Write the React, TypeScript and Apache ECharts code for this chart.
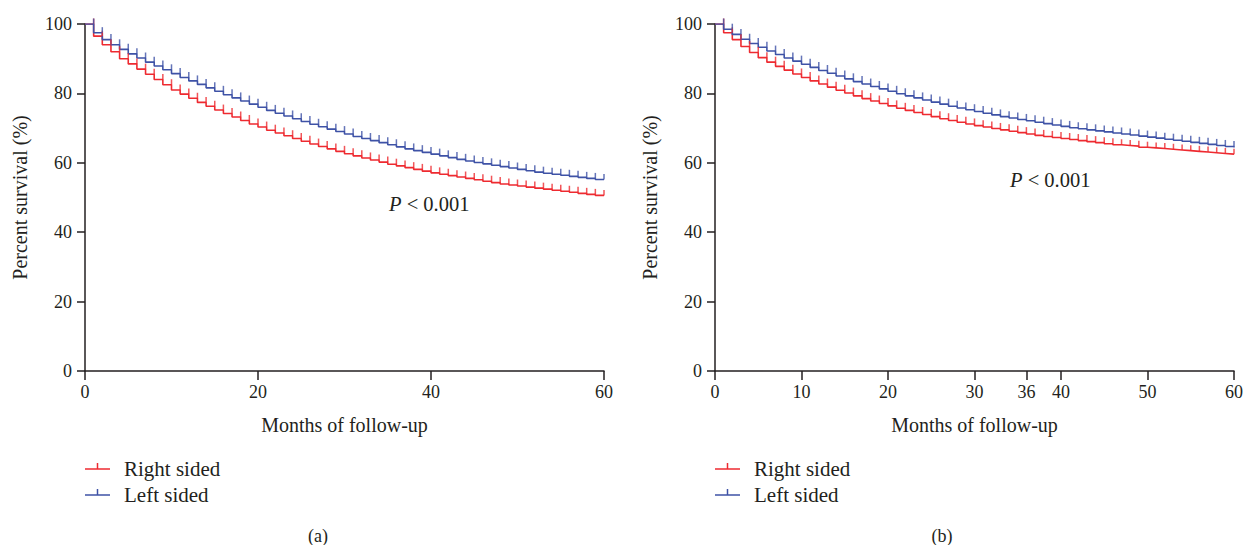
import React, { useEffect, useRef } from "react";
import * as echarts from "echarts";

const months = [
  0, 1, 2, 3, 4, 5, 6, 7, 8, 9, 10, 11, 12, 13, 14, 15, 16, 17, 18, 19, 20,
  21, 22, 23, 24, 25, 26, 27, 28, 29, 30, 31, 32, 33, 34, 35, 36, 37, 38, 39, 40,
  41, 42, 43, 44, 45, 46, 47, 48, 49, 50, 51, 52, 53, 54, 55, 56, 57, 58, 59, 60,
];

const aRight = [
  100, 96.5, 94, 92, 90, 88.5, 87, 85.5, 84, 82.5, 81, 79.8, 78.6, 77.4, 76.3,
  75.2, 74.2, 73.2, 72.2, 71.2, 70.3, 69.4, 68.6, 67.8, 67, 66.2, 65.4, 64.7,
  64, 63.3, 62.6, 62, 61.4, 60.8, 60.2, 59.6, 59.1, 58.6, 58.1, 57.6, 57.1, 56.7,
  56.3, 55.9, 55.5, 55.1, 54.7, 54.3, 53.9, 53.6, 53.3, 53, 52.7, 52.4, 52.1,
  51.8, 51.5, 51.2, 50.9, 50.6, 50.4,
];
const aLeft = [
  100, 97.5, 95.5, 94, 92.7, 91.4, 90.2, 89, 87.9, 86.8, 85.7, 84.6, 83.6, 82.6,
  81.6, 80.6, 79.6, 78.7, 77.8, 76.9, 76, 75.1, 74.3, 73.5, 72.7, 71.9, 71.1,
  70.4, 69.7, 69, 68.3, 67.6, 67, 66.4, 65.8, 65.2, 64.6, 64, 63.5, 63, 62.5, 62,
  61.5, 61, 60.5, 60.1, 59.7, 59.3, 58.9, 58.5, 58.1, 57.7, 57.3, 57, 56.7, 56.4,
  56.1, 55.8, 55.5, 55.2, 55,
];
const bRight = [
  100, 97.5, 95.5, 93.5, 91.8, 90.3, 89, 87.8, 86.7, 85.6, 84.6, 83.6, 82.7,
  81.8, 80.9, 80.1, 79.3, 78.5, 77.8, 77.1, 76.4, 75.7, 75.1, 74.5, 73.9, 73.3,
  72.7, 72.2, 71.7, 71.2, 70.7, 70.3, 69.9, 69.5, 69.1, 68.7, 68.3, 67.9, 67.6,
  67.3, 67, 66.7, 66.4, 66.1, 65.8, 65.5, 65.2, 65, 64.8, 64.5, 64.3, 64.1, 63.9,
  63.7, 63.5, 63.3, 63.1, 62.9, 62.7, 62.5, 62.3,
];
const bLeft = [
  100, 98.5, 97, 95.6, 94.4, 93.3, 92.2, 91.2, 90.2, 89.3, 88.4, 87.5, 86.6,
  85.8, 85, 84.2, 83.4, 82.7, 82, 81.3, 80.6, 79.9, 79.3, 78.7, 78.1, 77.5, 76.9,
  76.3, 75.8, 75.3, 74.8, 74.3, 73.8, 73.3, 72.9, 72.5, 72.1, 71.7, 71.3, 70.9,
  70.5, 70.1, 69.8, 69.5, 69.2, 68.9, 68.6, 68.3, 68, 67.7, 67.4, 67.1, 66.8,
  66.5, 66.2, 65.9, 65.6, 65.3, 65, 64.7, 64.4,
];

const yTicks = [0, 20, 40, 60, 80, 100];
const xTicksA = [0, 20, 40, 60];
const xTicksB = [0, 10, 20, 30, 36, 40, 50, 60];
const seriesNames = ["Right sided", "Left sided"];
const panelLabels = ["(a)", "(b)"];
const pText = "P < 0.001";

const RED = "#ee2a30";
const BLUE = "#3e52a6";
const INK = "#231f20";
const FONT = "Liberation Serif";
const TICK_FS = 18;
const NAME_FS = 20;

function stepSeries(vals: number[], color: string, idx: number, name: string) {
  return [
    {
      type: "line",
      name,
      xAxisIndex: idx,
      yAxisIndex: idx,
      step: "end",
      showSymbol: false,
      symbol: "none",
      lineStyle: { color, width: 1.6 },
      data: months.map((m, i) => [m, vals[i]]),
      z: 3,
    },
    {
      type: "scatter",
      name: name + " censored",
      xAxisIndex: idx,
      yAxisIndex: idx,
      symbol: "rect",
      symbolSize: [1.5, 5.5],
      symbolOffset: [0, -2.75],
      itemStyle: { color },
      silent: true,
      data: months.slice(1).map((m, i) => [m, vals[i]]),
      z: 3,
    },
  ];
}

function makeX(idx: number, ticks: number[]) {
  return {
    type: "value",
    gridIndex: idx,
    min: 0,
    max: 60,
    interval: 10,
    name: "Months of follow-up",
    nameLocation: "middle",
    nameGap: 44,
    nameTextStyle: { fontFamily: FONT, fontSize: NAME_FS, color: INK },
    splitLine: { show: false },
    axisLine: { lineStyle: { color: INK, width: 1.5 } },
    axisTick: {
      customValues: ticks,
      length: 9,
      lineStyle: { color: INK, width: 1.5 },
    },
    axisLabel: {
      customValues: ticks,
      margin: 12,
      fontFamily: FONT,
      fontSize: TICK_FS,
      color: INK,
    },
  };
}

function makeY(idx: number) {
  return {
    type: "value",
    gridIndex: idx,
    min: 0,
    max: 100,
    interval: 20,
    name: "Percent survival (%)",
    nameLocation: "middle",
    nameGap: 55,
    nameTextStyle: { fontFamily: FONT, fontSize: NAME_FS, color: INK },
    splitLine: { show: false },
    axisLine: { lineStyle: { color: INK, width: 1.5 } },
    axisTick: {
      customValues: yTicks,
      length: 8,
      lineStyle: { color: INK, width: 1.5 },
    },
    axisLabel: {
      customValues: yTicks,
      margin: 13,
      fontFamily: FONT,
      fontSize: TICK_FS,
      color: INK,
    },
  };
}

function legendGraphic(left: number, top: number) {
  const items = [
    { name: seriesNames[0], color: RED },
    { name: seriesNames[1], color: BLUE },
  ];
  const els: any[] = [];
  items.forEach((it, i) => {
    const y = top + i * 26;
    els.push({
      type: "line",
      shape: { x1: left, y1: y, x2: left + 25, y2: y },
      style: { stroke: it.color, lineWidth: 1.5 },
    });
    els.push({
      type: "line",
      shape: { x1: left + 12.5, y1: y, x2: left + 12.5, y2: y - 6 },
      style: { stroke: it.color, lineWidth: 1.5 },
    });
    els.push({
      type: "text",
      x: left + 39,
      y,
      style: {
        text: it.name,
        fontFamily: FONT,
        fontSize: 21,
        fill: INK,
        verticalAlign: "middle",
      },
    });
  });
  return els;
}

function pGraphic(x: number, y: number) {
  return {
    type: "text",
    x,
    y,
    style: {
      text: "{i|P} {n|" + pText.slice(2) + "}",
      rich: {
        i: { fontFamily: FONT, fontSize: 20.5, fontStyle: "italic", fill: INK, color: INK },
        n: { fontFamily: FONT, fontSize: 20.5, fill: INK, color: INK },
      },
      fontFamily: FONT,
      fontSize: 20.5,
      verticalAlign: "middle",
    },
  };
}

function panelLabel(x: number, text: string) {
  return {
    type: "text",
    x,
    y: 536,
    style: {
      text,
      fontFamily: FONT,
      fontSize: 18,
      fill: INK,
      align: "center",
      verticalAlign: "middle",
    },
  };
}

export default function App() {
  const ref = useRef<HTMLDivElement>(null);
  useEffect(() => {
    if (!ref.current) return;
    const chart = echarts.init(ref.current, undefined, { renderer: "svg" });
    chart.setOption({
      animation: false,
      backgroundColor: "#ffffff",
      grid: [
        { left: 85, top: 24, width: 519, height: 347 },
        { left: 715, top: 24, width: 519, height: 347 },
      ],
      xAxis: [makeX(0, xTicksA), makeX(1, xTicksB)],
      yAxis: [makeY(0), makeY(1)],
      series: [
        ...stepSeries(aRight, RED, 0, seriesNames[0]),
        ...stepSeries(aLeft, BLUE, 0, seriesNames[1]),
        ...stepSeries(bRight, RED, 1, seriesNames[0]),
        ...stepSeries(bLeft, BLUE, 1, seriesNames[1]),
      ],
      graphic: [
        ...legendGraphic(85, 469),
        ...legendGraphic(715, 469),
        pGraphic(389, 204),
        pGraphic(1010, 180),
        panelLabel(318, panelLabels[0]),
        panelLabel(942, panelLabels[1]),
      ],
    });
    return () => chart.dispose();
  }, []);
  return (
    <div
      ref={ref}
      style={{
        position: "fixed",
        left: 0,
        top: 0,
        width: 1246,
        height: 545,
        background: "#fff",
      }}
    />
  );
}
